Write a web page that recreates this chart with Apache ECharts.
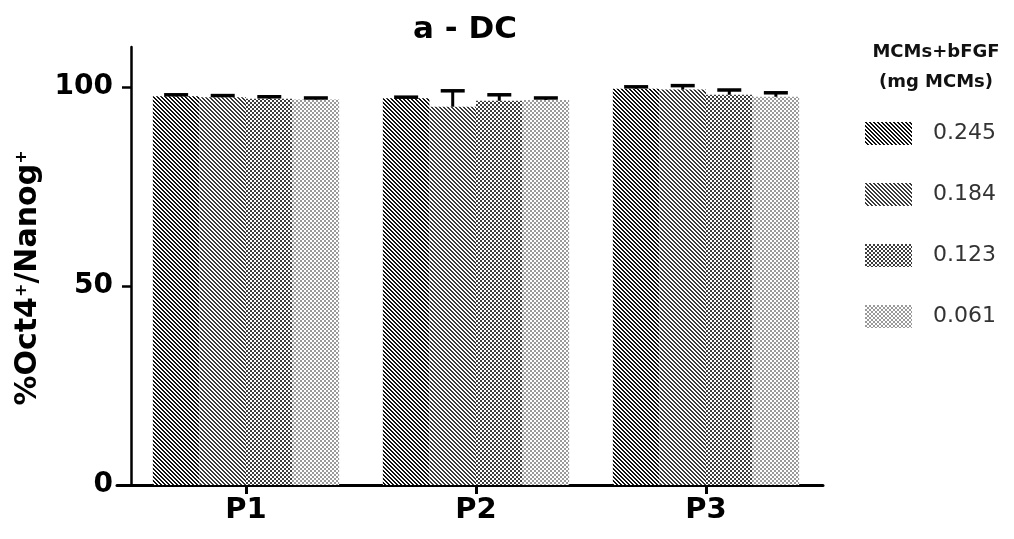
<!DOCTYPE html>
<html><head><meta charset="utf-8">
<script src="https://cdn.jsdelivr.net/npm/echarts@6/dist/echarts.min.js"></script>
<style>html,body{margin:0;padding:0;background:#fff}#c{width:1014px;height:539px}</style>
</head><body><div id="c"></div>
<script>
var categories = ['P1', 'P2', 'P3'];
var seriesNames = ['0.245', '0.184', '0.123', '0.061'];
var values0245 = [97.6, 97.1, 99.5];
var values0184 = [97.4, 95.0, 99.3];
var values0123 = [97.0, 96.5, 98.0];
var values0061 = [96.8, 96.7, 97.5];
var errors0245 = [0.4, 0.3, 0.5];
var errors0184 = [0.4, 4.0, 1.0];
var errors0123 = [0.5, 1.5, 1.2];
var errors0061 = [0.4, 0.5, 1.0];
var yTicks = [0, 50, 100];
var titleText = 'a - DC';
var legendTitle = ['MCMs+bFGF', '(mg MCMs)'];

var allValues = [values0245, values0184, values0123, values0061];
var allErrors = [errors0245, errors0184, errors0123, errors0061];
var FONT = 'DejaVu Sans, Liberation Sans, Arial';

function makePattern(kind) {
  var size = 4;
  var cv = document.createElement('canvas');
  cv.width = size; cv.height = size;
  var ctx = cv.getContext('2d');
  ctx.fillStyle = '#fff'; ctx.fillRect(0, 0, size, size);
  for (var x = 0; x < size; x++) {
    for (var y = 0; y < size; y++) {
      var on = false, col = '#000';
      if (kind === 0) { var d = ((x - y) % 4 + 4) % 4; on = d < 2; col = '#111'; }
      else if (kind === 1) { var d2 = ((x - y) % 4 + 4) % 4; on = d2 < 2; col = '#3a3a3a'; }
      else if (kind === 2) { on = ((Math.floor(x / 2) + Math.floor(y / 2)) % 2) === 0; col = '#3d3d3d'; }
      else { on = ((Math.floor(x / 2) + Math.floor(y / 2)) % 2) === 0; col = '#9a9a9a'; }
      if (on) { ctx.fillStyle = col; ctx.fillRect(x, y, 1, 1); }
    }
  }
  return { image: cv, repeat: 'repeat' };
}

var GAP = 0.19;
var series = [];
seriesNames.forEach(function (name, i) {
  series.push({
    name: name, type: 'bar', data: allValues[i],
    barGap: '0%', barCategoryGap: (GAP * 100) + '%',
    itemStyle: { color: makePattern(i) },
    emphasis: { disabled: true }, z: 2
  });
});
seriesNames.forEach(function (name, i) {
  series.push({
    type: 'custom', name: name + '_err', z: 5, silent: true,
    data: allValues[i].map(function (v, k) { return [k, v, allErrors[i][k]]; }),
    renderItem: function (params, api) {
      var band = api.size([1, 0])[0];
      var bw = band * (1 - GAP) / 4;
      var off = -band * (1 - GAP) / 2 + bw * (i + 0.5);
      var base = api.coord([api.value(0), api.value(1)]);
      var top = api.coord([api.value(0), api.value(1) + api.value(2)]);
      var cx = base[0] + off;
      var hw = 12;
      return { type: 'group', children: [
        { type: 'line', shape: { x1: cx, y1: base[1], x2: cx, y2: top[1] }, style: { stroke: '#000', lineWidth: 3 } },
        { type: 'line', shape: { x1: cx - hw, y1: top[1], x2: cx + hw, y2: top[1] }, style: { stroke: '#000', lineWidth: 3.5 } }
      ] };
    }
  });
});

var chart = echarts.init(document.getElementById('c'), null, { renderer: 'canvas' });
chart.setOption({
  animation: false,
  backgroundColor: '#fff',
  title: [
    { text: titleText, left: 460, top: 9, textAlign: 'center',
      textStyle: { fontFamily: FONT, fontWeight: 'bold', fontSize: 31, color: '#000' } },
    { text: legendTitle.join('\n'), left: 931, top: 32, textAlign: 'center',
      textStyle: { fontFamily: FONT, fontWeight: 'bold', fontSize: 18, lineHeight: 30, color: '#111' } }
  ],
  legend: {
    data: seriesNames, orient: 'vertical', left: 860, top: 117,
    itemWidth: 47, itemHeight: 23, itemGap: 38, icon: 'rect',
    textStyle: { fontFamily: FONT, fontSize: 22, color: '#333', padding: [0, 0, 0, 16] },
    selectedMode: false
  },
  grid: [
    { left: 131, right: 193, top: 47, bottom: 54 },
    { left: 117, right: 191, top: 47, bottom: 54 }
  ],
  xAxis: [
    { type: 'category', data: categories, gridIndex: 0,
      axisLine: { show: false },
      axisTick: { show: true, alignWithLabel: true, length: 9, lineStyle: { color: '#000', width: 3 } },
      axisLabel: { fontFamily: FONT, fontWeight: 'bold', fontSize: 29, color: '#000', margin: 11 } },
    { type: 'value', gridIndex: 1, min: 0, max: 1, position: 'bottom',
      axisLine: { show: true, onZero: false, lineStyle: { color: '#000', width: 3 } },
      axisTick: { show: false }, axisLabel: { show: false }, splitLine: { show: false } }
  ],
  yAxis: [
    { type: 'value', gridIndex: 0, min: 0, max: 110,
      axisLine: { show: true, lineStyle: { color: '#000', width: 2.5 } },
      axisTick: { show: true, length: 9, customValues: yTicks, lineStyle: { color: '#000', width: 2.5 } },
      axisLabel: { customValues: yTicks, fontFamily: FONT, fontWeight: 'bold', fontSize: 28, color: '#000', margin: 18 },
      splitLine: { show: false },
      name: '{a|%Oct4}{s|+}{a|/Nanog}{s|+}', nameLocation: 'middle', nameGap: 86,
      nameTextStyle: { padding: [0, 24, 0, 0], rich: {
        a: { fontFamily: FONT, fontWeight: 'bold', fontSize: 30, color: '#000' },
        s: { fontFamily: FONT, fontWeight: 'bold', fontSize: 16, color: '#000', verticalAlign: 'top', padding: [0, 0, 14, 0] }
      } } },
    { type: 'value', gridIndex: 1, show: false }
  ],
  series: series
});
</script></body></html>
